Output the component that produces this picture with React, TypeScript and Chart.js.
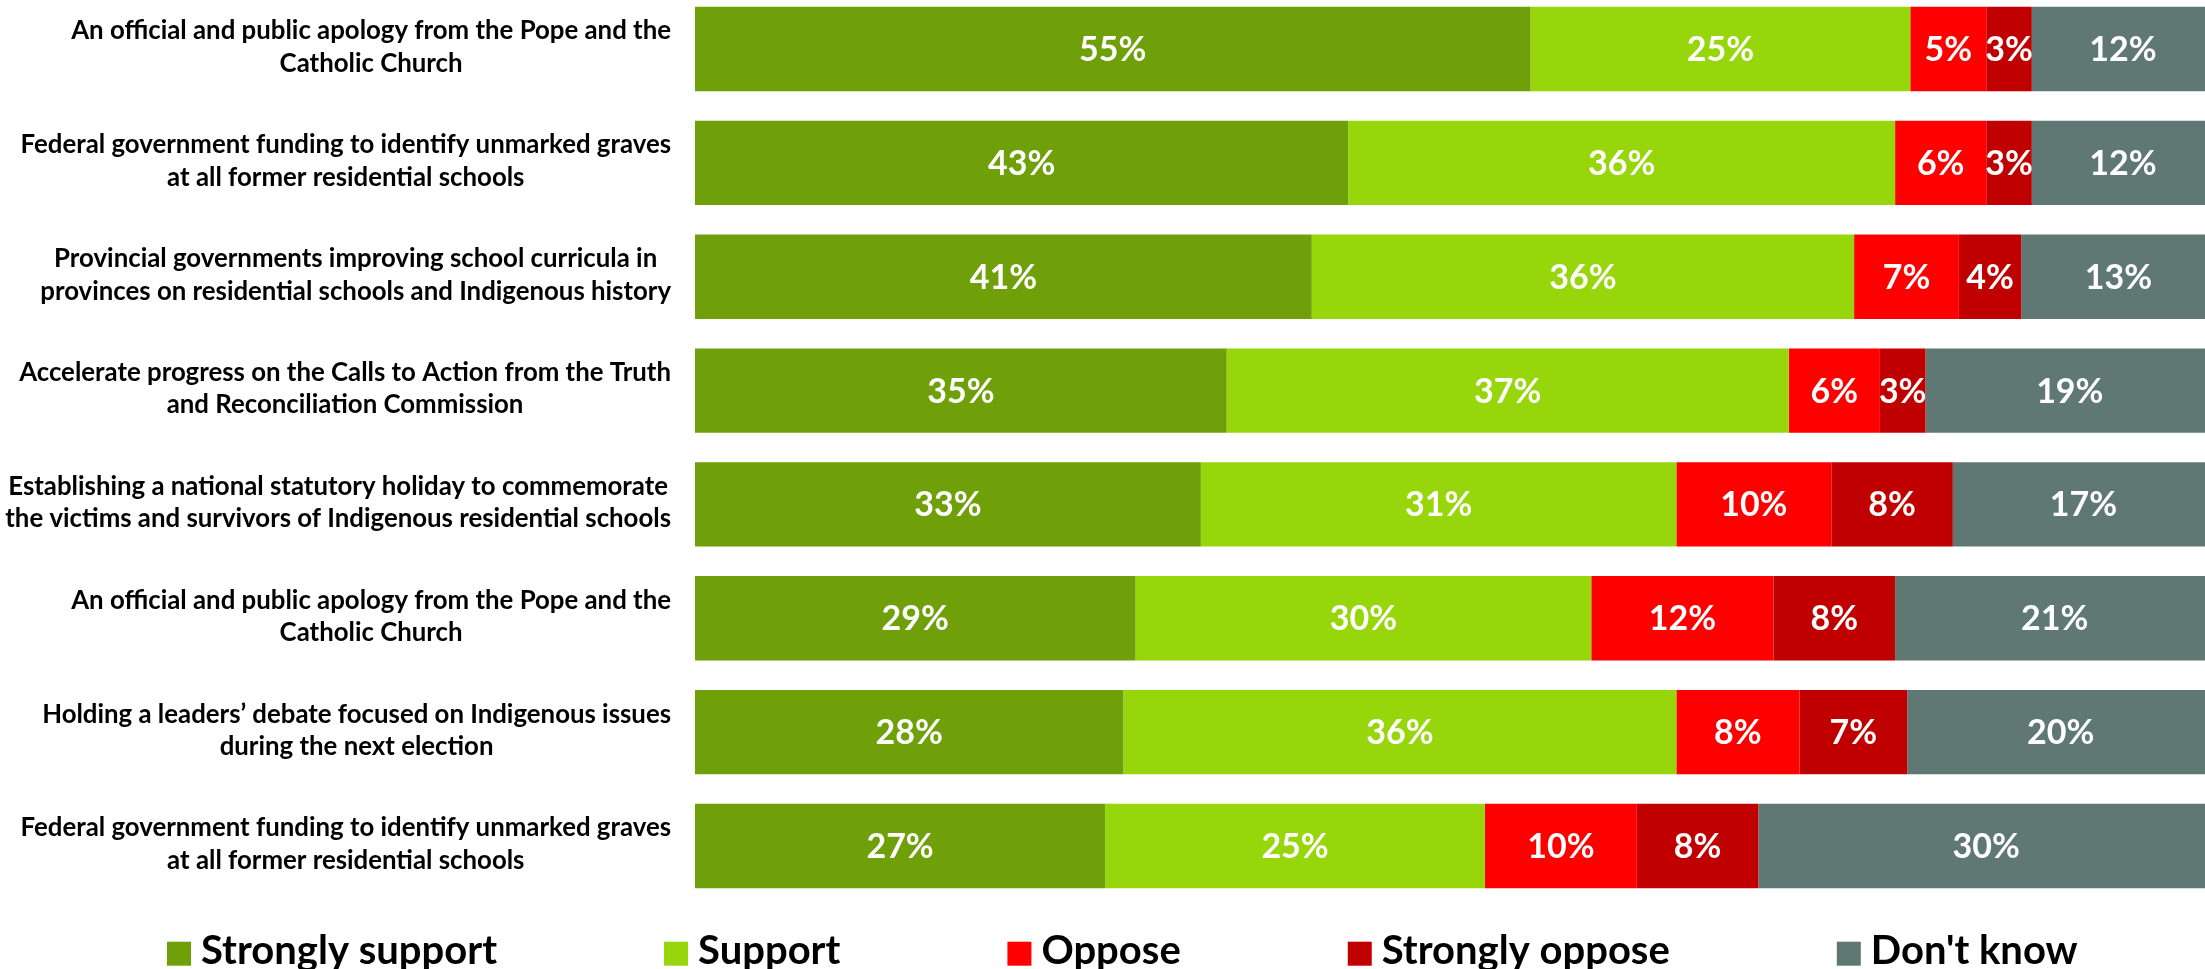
import React, { useEffect, useRef } from "react";
import { Chart, registerables } from "chart.js";

Chart.register(...registerables);

const categories: string[][] = [
  ["An official and public apology from the Pope and the", "Catholic Church"],
  ["Federal government funding to identify unmarked graves", "at all former residential schools"],
  ["Provincial governments improving school curricula in", "provinces on residential schools and Indigenous history"],
  ["Accelerate progress on the Calls to Action from the Truth", "and Reconciliation Commission"],
  ["Establishing a national statutory holiday to commemorate", "the victims and survivors of Indigenous residential schools"],
  ["An official and public apology from the Pope and the", "Catholic Church"],
  ["Holding a leaders\u2019 debate focused on Indigenous issues", "during the next election"],
  ["Federal government funding to identify unmarked graves", "at all former residential schools"],
];

const seriesNames = ["Strongly support", "Support", "Oppose", "Strongly oppose", "Don't know"];
const stronglySupport = [55, 43, 40.6, 35, 33.3, 29, 28.2, 27];
const support = [25, 36, 35.7, 37, 31.3, 30, 36.4, 25];
const oppose = [5, 6, 6.9, 6, 10.2, 12, 8.1, 10];
const stronglyOppose = [3, 3, 4.1, 3, 8.0, 8, 7.1, 8];
const dontKnow = [12, 12, 12.8, 19, 17.2, 21, 20.2, 30];
const seriesColors = ["#6FA00A", "#97D60A", "#FF0000", "#C00000", "#5F7874"];

const FONT = "Lato, 'Open Sans', sans-serif";

const yLabelPlugin = {
  id: "yLabels",
  afterDraw(chart: any) {
    const ctx = chart.ctx;
    const yScale = chart.scales.y;
    const rightEdge = 671;
    ctx.save();
    ctx.font = `700 25.8px ${FONT}`;
    ctx.fillStyle = "#000000";
    ctx.textAlign = "center";
    ctx.textBaseline = "alphabetic";
    categories.forEach((lines, i) => {
      const cy = yScale.getPixelForTick(i);
      const widths = lines.map((l) => ctx.measureText(l).width);
      const blockW = Math.max(...widths);
      const cx = rightEdge - blockW / 2;
      const lh = 32.4;
      const first = cy - 9.6 - ((lines.length - 2) * lh) / 2;
      lines.forEach((l, k) => {
        ctx.fillText(l, cx, first + k * lh);
      });
    });
    ctx.restore();
  },
};

const dataLabelPlugin = {
  id: "dataLabels",
  afterDatasetsDraw(chart: any) {
    const ctx = chart.ctx;
    ctx.save();
    ctx.font = `700 34px ${FONT}`;
    ctx.fillStyle = "#FFFFFF";
    ctx.textAlign = "center";
    ctx.textBaseline = "alphabetic";
    chart.data.datasets.forEach((ds: any, di: number) => {
      const meta = chart.getDatasetMeta(di);
      meta.data.forEach((el: any, i: number) => {
        const v = ds.data[i];
        const cx = (el.x + el.base) / 2;
        ctx.fillText(`${Math.round(v)}%`, cx, el.y + 12);
      });
    });
    ctx.restore();
  },
};

const legendPlugin = {
  id: "customLegend",
  afterDraw(chart: any) {
    const ctx = chart.ctx;
    ctx.save();
    ctx.font = `700 40px ${FONT}`;
    ctx.textAlign = "left";
    ctx.textBaseline = "alphabetic";
    let x = 167;
    const boxTop = 941.7;
    const box = 24;
    chart.data.datasets.forEach((ds: any) => {
      ctx.fillStyle = ds.backgroundColor;
      ctx.fillRect(x, boxTop, box, box);
      ctx.fillStyle = "#000000";
      const tx = x + box + 10;
      ctx.fillText(ds.label, tx, 963.5);
      const w = ctx.measureText(ds.label).width;
      x = tx + w + 167;
    });
    ctx.restore();
  },
};

export default function App() {
  const canvasRef = useRef<HTMLCanvasElement | null>(null);

  useEffect(() => {
    const canvas = canvasRef.current;
    if (!canvas) return;
    const seriesValues = [stronglySupport, support, oppose, stronglyOppose, dontKnow];
    const chart = new Chart(canvas, {
      type: "bar",
      data: {
        labels: categories,
        datasets: seriesNames.map((name, i) => ({
          label: name,
          data: seriesValues[i],
          backgroundColor: seriesColors[i],
          borderWidth: 0,
          barPercentage: 0.741,
          categoryPercentage: 1,
          clip: false as any,
        })),
      },
      options: {
        indexAxis: "y",
        responsive: false,
        animation: false,
        devicePixelRatio: 1,
        layout: { padding: { left: 695, right: 0, top: 49, bottom: 123 } },
        plugins: {
          legend: { display: false },
          tooltip: { enabled: false },
          title: { display: false },
        },
        scales: {
          x: {
            stacked: true,
            min: 0,
            max: 99.4,
            display: false,
            grid: { display: false },
          },
          y: {
            stacked: true,
            display: false,
            offset: false,
            grid: { display: false },
          },
        },
      },
      plugins: [yLabelPlugin, dataLabelPlugin, legendPlugin],
    });
    return () => {
      chart.destroy();
    };
  }, []);

  return (
    <div style={{ position: "absolute", left: 0, top: 0, width: 2205, height: 969, background: "#FFFFFF" }}>
      <canvas ref={canvasRef} width={2205} height={969} style={{ display: "block", width: 2205, height: 969 }} />
    </div>
  );
}
